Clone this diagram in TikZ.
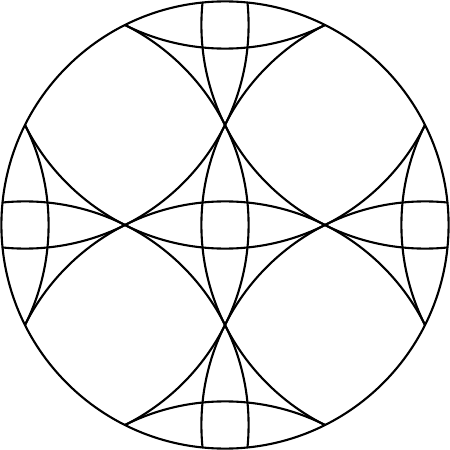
\documentclass[tikz,border=0pt]{standalone}
\usepackage{tikz}
\begin{document}
\begin{tikzpicture}[rosette/.style={line width=0.6pt}]
            \useasboundingbox (-2.25,-2.25) rectangle (2.25,2.25);

            \begin{scope}
            \clip (0,0) circle ({sqrt(5)});
            \draw[rosette] (2,0) circle ({sqrt(5)});
            \draw[rosette] (-2,0) circle ({sqrt(5)});
            \draw[rosette] (0,2) circle ({sqrt(5)});
            \draw[rosette] (0,-2) circle ({sqrt(5)});

            \draw[rosette] (2,2) circle ({sqrt(5)});
            \draw[rosette] (-2,2) circle ({sqrt(5)});
            \draw[rosette] (2,-2) circle ({sqrt(5)});
            \draw[rosette] (-2,-2) circle ({sqrt(5)});

            \draw[rosette] (4,0) circle ({sqrt(5)});
            \draw[rosette] (-4,0) circle ({sqrt(5)});
            \draw[rosette] (0,4) circle ({sqrt(5)});
            \draw[rosette] (0,-4) circle ({sqrt(5)});
            \end{scope}

            \draw[rosette] (0,0) circle ({sqrt(5)});
        \end{tikzpicture}
\end{document}
